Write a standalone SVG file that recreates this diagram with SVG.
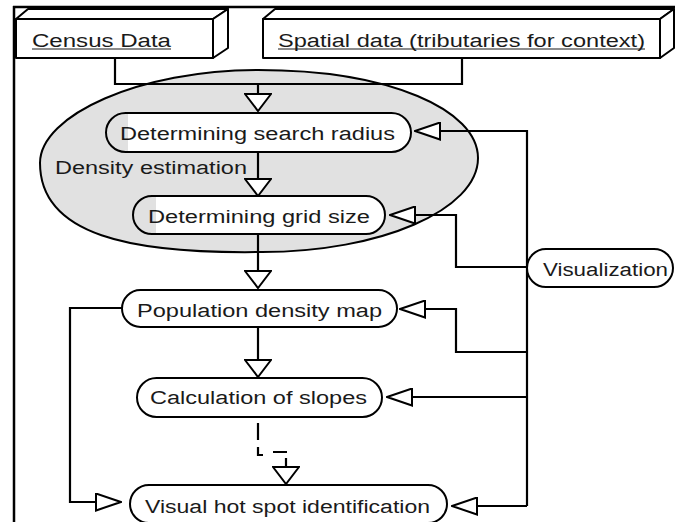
<svg xmlns="http://www.w3.org/2000/svg" width="675" height="522" viewBox="0 0 675 522">
<style>
.t{font-family:"Liberation Sans",Arial,sans-serif;font-size:18px;fill:#1a1a1a}
.box{fill:#fff;stroke:#000;stroke-width:2;stroke-linejoin:round}
.pill{fill:#fff;stroke:#000;stroke-width:2}
.out{fill:none;stroke:#000;stroke-width:2}
.ln{fill:none;stroke:#000;stroke-width:2.2}
.ul{stroke:#1a1a1a;stroke-width:1.2}
</style>
<defs>
<marker id="aV" markerUnits="userSpaceOnUse" viewBox="-1 -1 19 28" refX="17" refY="13" markerWidth="19" markerHeight="28" orient="auto">
<path d="M0,0 L17,13 L0,26 Z" fill="#fff" stroke="#000" stroke-width="2" stroke-linejoin="miter"/>
</marker>
<marker id="aH" markerUnits="userSpaceOnUse" viewBox="-1 -1 27 19" refX="25" refY="8.5" markerWidth="27" markerHeight="19" orient="auto">
<path d="M0,0 L25,8.5 L0,17 Z" fill="#fff" stroke="#000" stroke-width="2" stroke-linejoin="miter"/>
</marker>
</defs>
<rect width="675" height="522" fill="#fff"/>
<g id="frame">
<line x1="13" y1="7" x2="675" y2="7" stroke="#000" stroke-width="2.5"/>
<line x1="14" y1="6" x2="14" y2="522" stroke="#000" stroke-width="2.5"/>
</g>
<g id="density-estimation">
<path d="M40,163 C40,115 140,70 258,70 C390,70 478,110 478,158 C478,210 380,252 262,252 C130,254 40,235 40,163 Z" fill="#e1e1e1" stroke="#000" stroke-width="2"/>
<text class="t" x="55" y="174" textLength="192" lengthAdjust="spacingAndGlyphs">Density estimation</text>
</g>
<g id="connectors">
<path class="ln" d="M115,58 V84 H462 V58"/>
<path class="ln" d="M258,84 V111" marker-end="url(#aV)"/>
<path class="ln" d="M258,152 V196" marker-end="url(#aV)"/>
<path class="ln" d="M258,234 V288" marker-end="url(#aV)"/>
<path class="ln" d="M258,327 V377" marker-end="url(#aV)"/>
<path class="ln" d="M258,423 V440 M258,447 V455 H263 M273,452 H287 M286,458 V484" marker-end="url(#aV)"/>
<path class="ln" d="M122,308 H70 V502 H121" marker-end="url(#aH)"/>
<path class="ln" d="M527,506 V131 H415" marker-end="url(#aH)"/>
<path class="ln" d="M527,267 H456 V215 H390" marker-end="url(#aH)"/>
<path class="ln" d="M527,352 H456 V309 H400" marker-end="url(#aH)"/>
<path class="ln" d="M527,397 H387" marker-end="url(#aH)"/>
<path class="ln" d="M527,506 H452" marker-end="url(#aH)"/>
</g>
<g id="census-data">
<polygon class="box" points="16,19 28,9 228,9 213,19"/>
<polygon class="box" points="213,19 228,9 228,48 213,58"/>
<rect class="box" x="16" y="19" width="197" height="39"/>
<text class="t" x="32" y="46.5" textLength="139" lengthAdjust="spacingAndGlyphs">Census Data</text>
<line class="ul" x1="32" y1="49" x2="171" y2="49"/>
</g>
<g id="spatial-data">
<polygon class="box" points="263,19 275,9 674,9 660,19"/>
<polygon class="box" points="660,19 674,9 674,48 660,58"/>
<rect class="box" x="263" y="19" width="397" height="39"/>
<text class="t" x="278" y="46.5" textLength="367" lengthAdjust="spacingAndGlyphs">Spatial data (tributaries for context)</text>
<line class="ul" x1="278" y1="49" x2="645" y2="49"/>
</g>
<g id="search-radius">
<path d="M128,113 H391.5 A19.5,19.5 0 0 1 391.5,152 H128 Z" fill="#fff"/>
<rect class="out" x="106" y="113" width="305" height="39" rx="19.5"/>
<text class="t" x="120" y="140" textLength="275" lengthAdjust="spacingAndGlyphs">Determining search radius</text>
</g>
<g id="grid-size">
<path d="M156,196 H366 A19,19 0 0 1 366,234 H156 Z" fill="#fff"/>
<rect class="out" x="133" y="196" width="252" height="38" rx="19"/>
<text class="t" x="148" y="223" textLength="222" lengthAdjust="spacingAndGlyphs">Determining grid size</text>
</g>
<g id="population-density-map">
<rect class="pill" x="122" y="290" width="275" height="37" rx="18.5"/>
<text class="t" x="137" y="317" textLength="245" lengthAdjust="spacingAndGlyphs">Population density map</text>
</g>
<g id="calculation-of-slopes">
<rect class="pill" x="137" y="378" width="245" height="39" rx="19.5"/>
<text class="t" x="150" y="404" textLength="217" lengthAdjust="spacingAndGlyphs">Calculation of slopes</text>
</g>
<g id="visual-hot-spot">
<rect class="pill" x="130" y="485" width="317" height="38" rx="19"/>
<text class="t" x="145" y="513" textLength="285" lengthAdjust="spacingAndGlyphs">Visual hot spot identification</text>
</g>
<g id="visualization">
<rect class="pill" x="527" y="249" width="146" height="38" rx="19"/>
<text class="t" x="543" y="276" textLength="125" lengthAdjust="spacingAndGlyphs">Visualization</text>
</g>
</svg>
